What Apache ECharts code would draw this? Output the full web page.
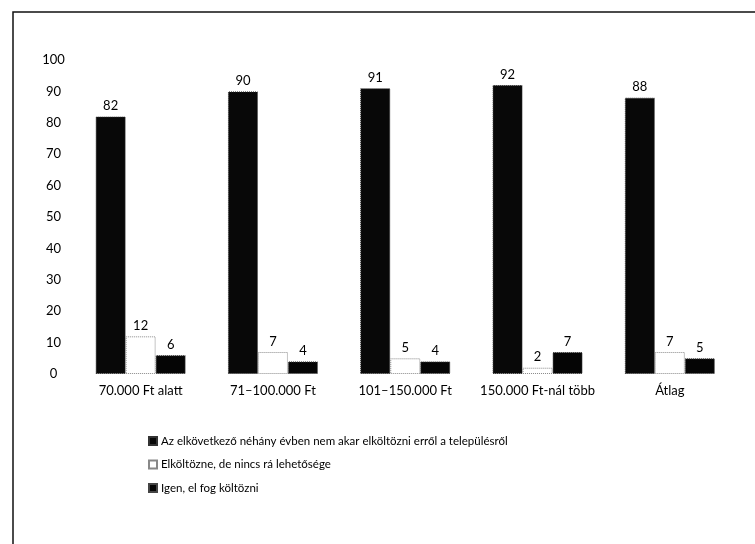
<!DOCTYPE html>
<html><head><meta charset="utf-8">
<script src="https://cdn.jsdelivr.net/npm/echarts@6/dist/echarts.min.js"></script>
<style>html,body{margin:0;padding:0;background:#fff}#c{width:755px;height:544px}</style>
</head><body><div id="c"></div>
<script>
const categories = ['70.000 Ft alatt', '71–100.000 Ft', '101–150.000 Ft', '150.000 Ft-nál több', 'Átlag'];
const seriesNames = [
  'Az elkövetkező néhány évben nem akar elköltözni erről a településről',
  'Elköltözne, de nincs rá lehetősége',
  'Igen, el fog költözni'
];
const stay = [82, 90, 91, 92, 88];
const wouldMove = [12, 7, 5, 2, 7];
const willMove = [6, 4, 4, 7, 5];
const yTicks = [0, 10, 20, 30, 40, 50, 60, 70, 80, 90, 100];

const FONT = 'Lato, "Open Sans", sans-serif';
const chart = echarts.init(document.getElementById('c'), null, {renderer: 'canvas'});
const labelCfg = {show: true, position: 'top', distance: 4, color: '#000', fontSize: 13, fontFamily: FONT};
chart.setOption({
  animation: false,
  backgroundColor: '#fff',
  grid: {left: 74.5, width: 661.5, top: 60, bottom: 170},
  graphic: [{
    type: 'rect', shape: {x: 13, y: 12, width: 800, height: 600},
    style: {fill: 'none', stroke: '#111', lineWidth: 1.5}
  }],
  legend: {
    orient: 'vertical', left: 143, top: 430, itemGap: 11.5,
    itemWidth: 8, itemHeight: 8, icon: 'rect',
    textStyle: {fontSize: 11.5, fontFamily: FONT, color: '#000', padding: [0, 0, 0, -1]},
    data: seriesNames
  },
  xAxis: {
    type: 'category', data: categories,
    axisLine: {show: false}, axisTick: {show: false},
    axisLabel: {color: '#000', fontSize: 13, fontFamily: FONT, margin: 10, interval: 0}
  },
  yAxis: {
    type: 'value', min: yTicks[0], max: yTicks[yTicks.length - 1], interval: 10,
    splitLine: {show: false}, axisLine: {show: false}, axisTick: {show: false},
    axisLabel: {color: '#000', fontSize: 13, fontFamily: FONT, align: 'center', margin: 21}
  },
  series: [
    {name: seriesNames[0], type: 'bar', data: stay, barWidth: 30, barGap: '0%',
     itemStyle: {color: '#080808', borderColor: '#333', borderWidth: 1, borderType: 'dotted'}, label: labelCfg},
    {name: seriesNames[1], type: 'bar', data: wouldMove, barWidth: 30, barGap: '0%',
     itemStyle: {color: '#fff', borderColor: '#888', borderWidth: 1, borderType: 'dotted'}, label: labelCfg},
    {name: seriesNames[2], type: 'bar', data: willMove, barWidth: 30, barGap: '0%',
     itemStyle: {color: '#050505', borderColor: '#444', borderWidth: 1, borderType: 'dotted'}, label: labelCfg}
  ]
});
</script></body></html>
